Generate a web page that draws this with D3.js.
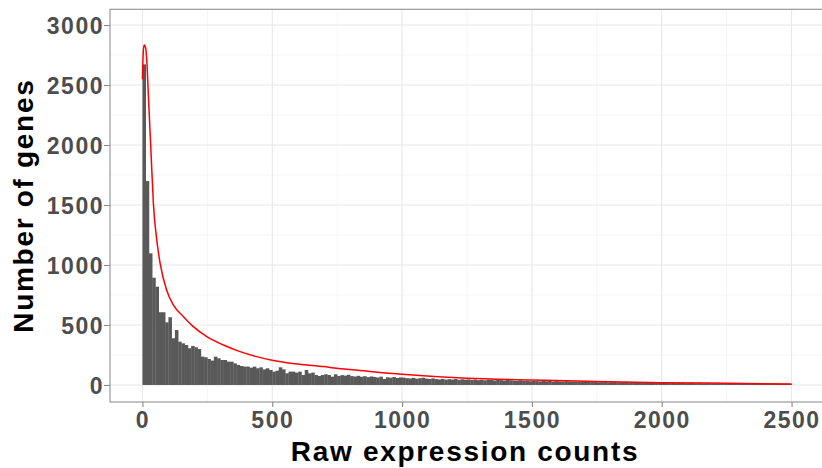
<!DOCTYPE html>
<html>
<head>
<meta charset="utf-8">
<script src="https://cdn.jsdelivr.net/npm/d3@7"></script>
<style>
  body { margin: 0; background: #fff; }
  svg { display: block; }
</style>
</head>
<body>
<div id="chart"></div>
<script>
// histogram counts, bins of 12.5 starting at 0
var binWidth = 12.5;
var counts = [
  2672, 1700, 1097, 894, 819, 606, 606, 522, 564, 389,
  458, 361, 347, 333, 306, 325, 314, 300, 236, 231,
  217, 203, 236, 222, 208, 208, 194, 194, 180, 167,
  158, 153, 153, 144, 153, 139, 147, 130, 139, 125,
  111, 119, 147, 130, 97, 111, 111, 103, 111, 83,
  125, 97, 103, 83, 75, 83, 89, 83, 69, 89,
  75, 82, 78, 85, 74, 70, 76, 68, 73, 65,
  71, 67, 62, 69, 50, 64, 60, 66, 58, 63,
  61, 57, 54, 59, 52, 56, 60, 53, 50, 55,
  49, 46, 51, 44, 48, 45, 50, 43, 47, 44,
  46, 42, 45, 40, 43, 39, 44, 41, 38, 42,
  40, 37, 41, 39, 36, 34, 38, 33, 35, 31,
  34, 32, 30, 35, 31, 33, 29, 32, 30, 28,
  31, 29, 27, 28, 26, 27, 25, 26, 24, 25,
  23, 24, 25, 22, 23, 24, 21, 22, 23, 20,
  21, 22, 19, 20, 21, 18, 19, 20, 18, 19,
  17, 18, 16, 17, 15, 16, 17, 14, 15, 16,
  14, 15, 13, 14, 15, 13, 14, 12, 13, 14,
  12, 13, 12, 11, 13, 12, 11, 12, 10, 11,
  12, 10, 11, 10, 9, 11, 10, 9, 10, 9
];

// red density curve (scaled to counts)
var curveX = [0, 3.5, 7, 12.6, 16.5, 23, 29, 36, 42, 55, 68, 93, 119, 158, 196, 248,
  312, 376, 440, 504, 569, 633, 697, 748, 850, 1000, 1250, 1500, 1750, 2000, 2250, 2500];
var curveY = [2547, 2792, 2833, 2805, 2708, 2403, 2125, 1792, 1517, 1210, 1014, 792, 667, 569, 486, 403,
  333, 278, 236, 203, 181, 167, 153, 139, 118, 89, 56, 42, 28, 19, 14, 8];

var xTicks = [0, 500, 1000, 1500, 2000, 2500];
var xMinor = [250, 750, 1250, 1750, 2250];
var yTicks = [0, 500, 1000, 1500, 2000, 2500, 3000];
var yMinor = [250, 750, 1250, 1750, 2250, 2750];

var W = 822, H = 468;
var panel = {left: 110, right: 826, top: 9.3, bottom: 402};

var svg = d3.select("#chart")
    .append("svg")
    .attr("width", W)
    .attr("height", H);

svg.append("rect").attr("width", W).attr("height", H).attr("fill", "#fff");

var x = d3.scaleLinear()
    .domain([-125, 2625])
    .range([110, 824]);

var y = d3.scaleLinear()
    .domain([-142, 3131])
    .range([panel.bottom, panel.top]);

// grid lines
var grid = svg.append("g");
grid.selectAll(".xminor").data(xMinor).enter().append("line")
    .attr("x1", function (d) { return x(d); }).attr("x2", function (d) { return x(d); })
    .attr("y1", panel.top).attr("y2", panel.bottom)
    .attr("stroke", "#f0f0f0").attr("stroke-width", 0.6);
grid.selectAll(".yminor").data(yMinor).enter().append("line")
    .attr("y1", function (d) { return y(d); }).attr("y2", function (d) { return y(d); })
    .attr("x1", panel.left).attr("x2", panel.right)
    .attr("stroke", "#f0f0f0").attr("stroke-width", 0.6);
grid.selectAll(".xmajor").data(xTicks).enter().append("line")
    .attr("x1", function (d) { return x(d); }).attr("x2", function (d) { return x(d); })
    .attr("y1", panel.top).attr("y2", panel.bottom)
    .attr("stroke", "#e8e8e8").attr("stroke-width", 1.1);
grid.selectAll(".ymajor").data(yTicks).enter().append("line")
    .attr("y1", function (d) { return y(d); }).attr("y2", function (d) { return y(d); })
    .attr("x1", panel.left).attr("x2", panel.right)
    .attr("stroke", "#e8e8e8").attr("stroke-width", 1.1);

// bars
svg.append("g")
    .selectAll("rect")
    .data(counts)
    .enter()
    .append("rect")
    .attr("x", function (d, i) { return x(i * binWidth); })
    .attr("width", function (d, i) { return x((i + 1) * binWidth) - x(i * binWidth) + 0.3; })
    .attr("y", function (d) { return y(d); })
    .attr("height", function (d) { return y(0) - y(d); })
    .attr("fill", "#595959");

// density line
var line = d3.line()
    .x(function (d) { return x(d[0]); })
    .y(function (d) { return y(d[1]); })
    .curve(d3.curveMonotoneX);

svg.append("path")
    .datum(d3.zip(curveX, curveY))
    .attr("d", line)
    .attr("fill", "none")
    .attr("stroke", "#ff0000")
    .attr("stroke-width", 1.5);

// panel border
svg.append("rect")
    .attr("x", panel.left).attr("y", panel.top)
    .attr("width", panel.right - panel.left).attr("height", panel.bottom - panel.top)
    .attr("fill", "none").attr("stroke", "#9a9a9a").attr("stroke-width", 1.2);

// axes
var xAxis = svg.append("g")
    .attr("transform", "translate(0," + panel.bottom + ")")
    .call(d3.axisBottom(x).tickValues(xTicks).tickFormat(d3.format("d")).tickSize(5).tickPadding(5));
var yAxis = svg.append("g")
    .attr("transform", "translate(" + panel.left + ",0)")
    .call(d3.axisLeft(y).tickValues(yTicks).tickFormat(d3.format("d")).tickSize(6).tickPadding(6));

[xAxis, yAxis].forEach(function (a) {
    a.select(".domain").remove();
    a.selectAll("line").attr("stroke", "#8a8a8a").attr("stroke-width", 1.1);
    a.selectAll("text")
        .attr("fill", "#4d4d4d")
        .style("font-family", "'Liberation Sans', Arial, sans-serif")
        .style("font-weight", "bold")
        .style("font-size", "23px")
        .style("letter-spacing", "1.5px");
});
xAxis.selectAll("text").attr("dy", null).attr("y", 26);
yAxis.selectAll("text").attr("dy", "0.36em").attr("x", -6);

// axis titles
svg.append("text")
    .attr("x", 465)
    .attr("y", 461)
    .attr("text-anchor", "middle")
    .style("font-family", "'Liberation Sans', Arial, sans-serif")
    .style("font-weight", "bold")
    .style("font-size", "28px")
    .style("letter-spacing", "1.7px")
    .text("Raw expression counts");

svg.append("text")
    .attr("transform", "translate(32.5," + ((panel.top + panel.bottom) / 2) + ") rotate(-90)")
    .attr("text-anchor", "middle")
    .style("font-family", "'Liberation Sans', Arial, sans-serif")
    .style("font-weight", "bold")
    .style("font-size", "28px")
    .style("letter-spacing", "1.7px")
    .text("Number of genes");
</script>
</body>
</html>
